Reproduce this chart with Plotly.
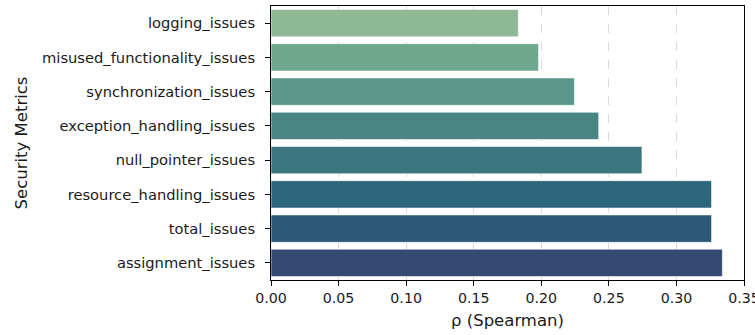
import plotly.graph_objects as go

# Spearman correlation per security metric
metrics = [
    "logging_issues",
    "misused_functionality_issues",
    "synchronization_issues",
    "exception_handling_issues",
    "null_pointer_issues",
    "resource_handling_issues",
    "total_issues",
    "assignment_issues",
]
rho = [0.183, 0.198, 0.2245, 0.2425, 0.2745, 0.326, 0.326, 0.334]
bar_colors = [
    "#8fb895", "#70a78f", "#5b968a", "#488584",
    "#3b7680", "#2d667c", "#2d5878", "#354a72",
]
x_ticks = [0.0, 0.05, 0.10, 0.15, 0.20, 0.25, 0.30, 0.35]

font = "DejaVu Sans, Liberation Sans, sans-serif"

fig = go.Figure(
    go.Bar(
        x=rho,
        y=metrics,
        orientation="h",
        width=0.8,
        marker=dict(color=bar_colors, line=dict(color="rgba(255,255,255,0.6)", width=1)),
        showlegend=False,
    )
)

fig.update_layout(
    width=755,
    height=335,
    margin=dict(l=271, r=11, t=6, b=55),
    paper_bgcolor="white",
    plot_bgcolor="white",
    font=dict(family=font, size=14.7, color="#1a1a1a"),
)

fig.update_xaxes(
    range=[0, 0.35],
    tickvals=x_ticks,
    ticktext=[f"{v:.2f}" for v in x_ticks],
    ticklabeloverflow="allow",
    automargin=False,
    showgrid=True,
    gridcolor="rgba(150,150,150,0.35)",
    griddash="dash",
    gridwidth=1,
    zeroline=False,
    showline=True,
    linecolor="black",
    linewidth=1,
    mirror=True,
    ticks="outside",
    ticklen=5,
    tickcolor="black",
    layer="above traces",
    title=dict(text="ρ (Spearman)", font=dict(size=16.5), standoff=9),
    tickfont=dict(size=14.2),
)

fig.update_yaxes(
    categoryorder="array",
    categoryarray=metrics,
    autorange="reversed",
    range=[7.5, -0.5],
    automargin=False,
    showgrid=False,
    zeroline=False,
    showline=True,
    linecolor="black",
    linewidth=1,
    mirror=True,
    ticks="outside",
    ticklen=5,
    tickcolor="black",
    ticklabelstandoff=7,
    title=dict(text="Security Metrics", font=dict(size=16.5), standoff=10),
    tickfont=dict(size=14.7),
)

fig.write_html("out.html")
